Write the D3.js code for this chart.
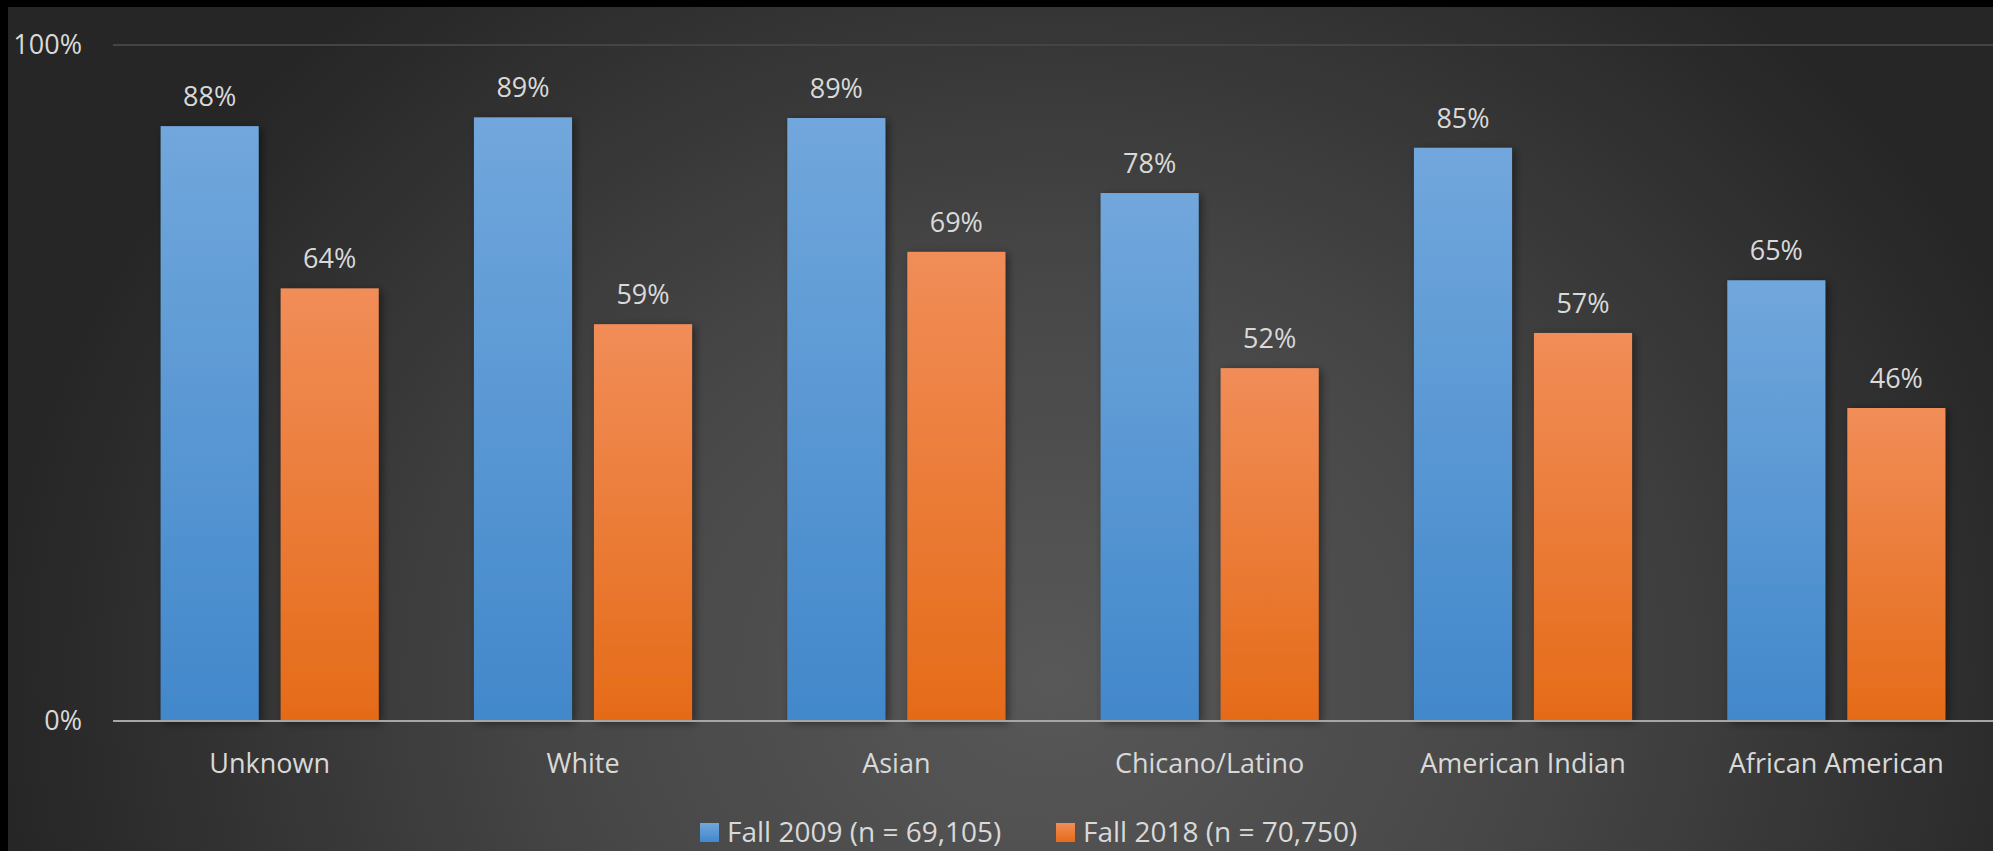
<!DOCTYPE html>
<meta charset="utf-8">
<style>
  html, body { margin: 0; padding: 0; background: #000; }
  svg { display: block; }
  text { font-family: 'Open Sans', 'Noto Sans', sans-serif; fill: #d9d9d9; }
</style>
<script src="https://d3js.org/d3.v7.min.js"></script>
<body>
<svg width="1993" height="851"></svg>
<script>
  var categories = ["Unknown", "White", "Asian", "Chicano/Latino", "American Indian", "African American"];
  var fall2009 = [88.0, 89.3, 89.2, 78.1, 84.8, 65.2];
  var fall2018 = [64.0, 58.7, 69.4, 52.2, 57.4, 46.3];
  var seriesNames = ["Fall 2009 (n = 69,105)", "Fall 2018 (n = 70,750)"];
  var yTicks = [0, 100];

  var svg = d3.select("svg");
  var W = 1993, H = 851;
  var defs = svg.append("defs");

  // panel background: dark with a lighter glow towards the middle bottom
  var bg = defs.append("radialGradient").attr("id", "bg")
    .attr("gradientUnits", "userSpaceOnUse")
    .attr("cx", 1050).attr("cy", 680).attr("r", 1050)
    .attr("gradientTransform", "translate(1050,680) scale(1,0.85) translate(-1050,-680)");
  bg.append("stop").attr("offset", "0%").attr("stop-color", "#585858");
  bg.append("stop").attr("offset", "45%").attr("stop-color", "#474747");
  bg.append("stop").attr("offset", "100%").attr("stop-color", "#262626");

  var gradBlue = defs.append("linearGradient").attr("id", "gBlue").attr("x1", 0).attr("y1", 0).attr("x2", 0).attr("y2", 1);
  gradBlue.append("stop").attr("offset", "0%").attr("stop-color", "#71a7dc");
  gradBlue.append("stop").attr("offset", "100%").attr("stop-color", "#4288cb");
  var gradOrange = defs.append("linearGradient").attr("id", "gOrange").attr("x1", 0).attr("y1", 0).attr("x2", 0).attr("y2", 1);
  gradOrange.append("stop").attr("offset", "0%").attr("stop-color", "#f18d58");
  gradOrange.append("stop").attr("offset", "100%").attr("stop-color", "#e56b18");

  var shadow = defs.append("filter").attr("id", "shadow")
    .attr("x", "-20%").attr("y", "-20%").attr("width", "150%").attr("height", "140%");
  shadow.append("feDropShadow").attr("dx", 3).attr("dy", 2).attr("stdDeviation", 4)
    .attr("flood-color", "#000").attr("flood-opacity", 0.45);

  svg.append("rect").attr("x", 8).attr("y", 7).attr("width", W - 8).attr("height", H - 7)
    .attr("fill", "url(#bg)");

  var x0 = d3.scaleBand().domain(categories).range([113, 1993]).paddingInner(0.304).paddingOuter(0.152);
  var x1 = d3.scaleBand().domain([0, 1]).range([0, x0.bandwidth()]).paddingInner(0.183);
  var y = d3.scaleLinear().domain([0, 100]).range([721, 45]);

  // gridline at 100%
  svg.append("line").attr("x1", 113).attr("x2", W)
    .attr("y1", y(100)).attr("y2", y(100))
    .attr("stroke", "#444").attr("stroke-width", 2);

  // y tick labels
  svg.selectAll(".ytick").data(yTicks).enter().append("text")
    .attr("class", "ytick")
    .attr("x", 82).attr("y", function(d) { return y(d); })
    .attr("dy", "0.35em")
    .attr("text-anchor", "end")
    .style("font-size", "27px")
    .text(function(d) { return d + "%"; });

  var rows = categories.map(function(c, i) {
    return { cat: c, vals: [fall2009[i], fall2018[i]] };
  });
  var fills = ["url(#gBlue)", "url(#gOrange)"];

  var grp = svg.selectAll(".grp").data(rows).enter().append("g")
    .attr("class", "grp")
    .attr("transform", function(d) { return "translate(" + x0(d.cat) + ",0)"; });

  grp.selectAll("rect").data(function(d) { return d.vals; }).enter().append("rect")
    .attr("x", function(d, i) { return x1(i); })
    .attr("y", function(d) { return y(d); })
    .attr("width", x1.bandwidth())
    .attr("height", function(d) { return y(0) - y(d); })
    .attr("fill", function(d, i) { return fills[i]; })
    .attr("filter", "url(#shadow)");

  grp.selectAll(".lbl").data(function(d) { return d.vals; }).enter().append("text")
    .attr("class", "lbl")
    .attr("x", function(d, i) { return x1(i) + x1.bandwidth() / 2; })
    .attr("y", function(d) { return y(d) - 20; })
    .attr("text-anchor", "middle")
    .style("font-size", "27px")
    .text(function(d) { return Math.round(d) + "%"; });

  // baseline
  svg.append("line").attr("x1", 113).attr("x2", W)
    .attr("y1", y(0)).attr("y2", y(0))
    .attr("stroke", "#a6a6a6").attr("stroke-width", 2);

  // category labels
  svg.selectAll(".xlab").data(categories).enter().append("text")
    .attr("class", "xlab")
    .attr("x", function(d) { return x0(d) + x0.bandwidth() / 2; })
    .attr("y", 773)
    .attr("text-anchor", "middle")
    .style("font-size", "27px")
    .text(function(d) { return d; });

  // legend
  var legX = [700, 1056];
  var legColors = ["url(#gBlue)", "url(#gOrange)"];
  var leg = svg.selectAll(".leg").data(seriesNames).enter().append("g")
    .attr("class", "leg")
    .attr("transform", function(d, i) { return "translate(" + legX[i] + ",823)"; });
  leg.append("rect").attr("width", 19).attr("height", 19)
    .attr("fill", function(d, i) { return legColors[i]; });
  leg.append("text").attr("x", 27).attr("y", 19)
    .style("font-size", "28px")
    .text(function(d) { return d; });
</script>
